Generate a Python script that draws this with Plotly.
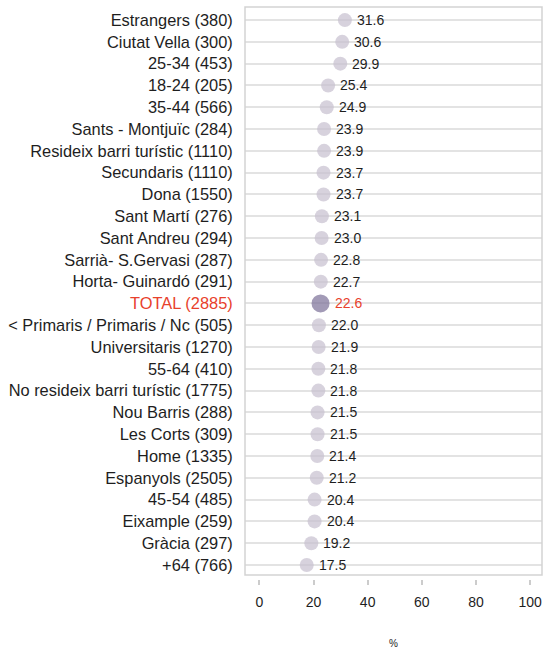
import plotly.graph_objects as go

categories = [
    "Estrangers (380)", "Ciutat Vella (300)", "25-34 (453)", "18-24 (205)", "35-44 (566)",
    "Sants - Montjuïc (284)", "Resideix barri turístic (1110)", "Secundaris (1110)", "Dona (1550)",
    "Sant Martí (276)", "Sant Andreu (294)", "Sarrià- S.Gervasi (287)", "Horta- Guinardó (291)",
    "TOTAL (2885)", "< Primaris / Primaris / Nc (505)", "Universitaris (1270)", "55-64 (410)",
    "No resideix barri turístic (1775)", "Nou Barris (288)", "Les Corts (309)", "Home (1335)",
    "Espanyols (2505)", "45-54 (485)", "Eixample (259)", "Gràcia (297)", "+64 (766)",
]
values = [31.6, 30.6, 29.9, 25.4, 24.9, 23.9, 23.9, 23.7, 23.7, 23.1, 23.0, 22.8, 22.7,
          22.6, 22.0, 21.9, 21.8, 21.8, 21.5, 21.5, 21.4, 21.2, 20.4, 20.4, 19.2, 17.5]
x_ticks = [0, 20, 40, 60, 80, 100]
total_label = "TOTAL (2885)"

RED = "#e8412c"
DOT = "#c6bfcf"
DOT_TOTAL = "#7b6f97"
FONT = "Liberation Sans, Arial, sans-serif"

is_total = [c == total_label for c in categories]
sizes = [18 if t else 14 for t in is_total]
colors = [DOT_TOTAL if t else DOT for t in is_total]
text_colors = [RED if t else "#1e1e1e" for t in is_total]
ticktext = [f"<span style='color:{RED}'>{c}</span>" if c == total_label else c for c in categories]

fig = go.Figure()
fig.add_trace(go.Scatter(
    x=values, y=categories, mode="markers",
    marker=dict(size=sizes, color=colors, line=dict(width=0)),
    cliponaxis=False, showlegend=False, hoverinfo="x+y",
))

annotations = []
for c, v, s, tc in zip(categories, values, sizes, text_colors):
    annotations.append(dict(
        x=v, y=c, xref="x", yref="y", text=f"{v:.1f}", showarrow=False,
        xanchor="left", yanchor="middle", xshift=s / 2 + 3,
        font=dict(size=14, color=tc, family=FONT),
    ))
annotations.append(dict(text="%", xref="x domain", yref="paper", x=0.5, y=(579 - 643) / 572,
                        showarrow=False, font=dict(size=10, family=FONT), yanchor="middle"))

fig.update_layout(
    width=544, height=649,
    margin=dict(l=245, r=2, t=7, b=70),
    paper_bgcolor="white", plot_bgcolor="white",
    font=dict(family=FONT, color="#1e1e1e"),
    xaxis=dict(
        range=[-5.3, 104.4], tickvals=x_ticks, showgrid=False, zeroline=False,
        showline=False, ticks="outside", ticklen=5, tickcolor="#cccccc", tickwidth=1.5,
        tickfont=dict(size=14), anchor="free", position=0, ticklabelstandoff=5,
    ),
    yaxis=dict(
        categoryorder="array", categoryarray=categories, tickvals=categories, ticktext=ticktext,
        range=[25.46, -0.6], domain=[4 / 572, 1], showgrid=True, gridcolor="#e3e3e3",
        gridwidth=1.5, zeroline=False, showline=False, ticks="outside", ticklen=8,
        tickcolor="rgba(0,0,0,0)", tickfont=dict(size=16.4),
    ),
    shapes=[dict(type="rect", xref="x domain", yref="y domain", x0=0, x1=1, y0=0, y1=1,
                 line=dict(color="#d3d3d3", width=1.5), layer="above")],
    annotations=annotations,
)

fig.write_html("out.html", config={"displayModeBar": False},
               post_script="document.body.style.margin='0';document.body.style.overflow='hidden';")
